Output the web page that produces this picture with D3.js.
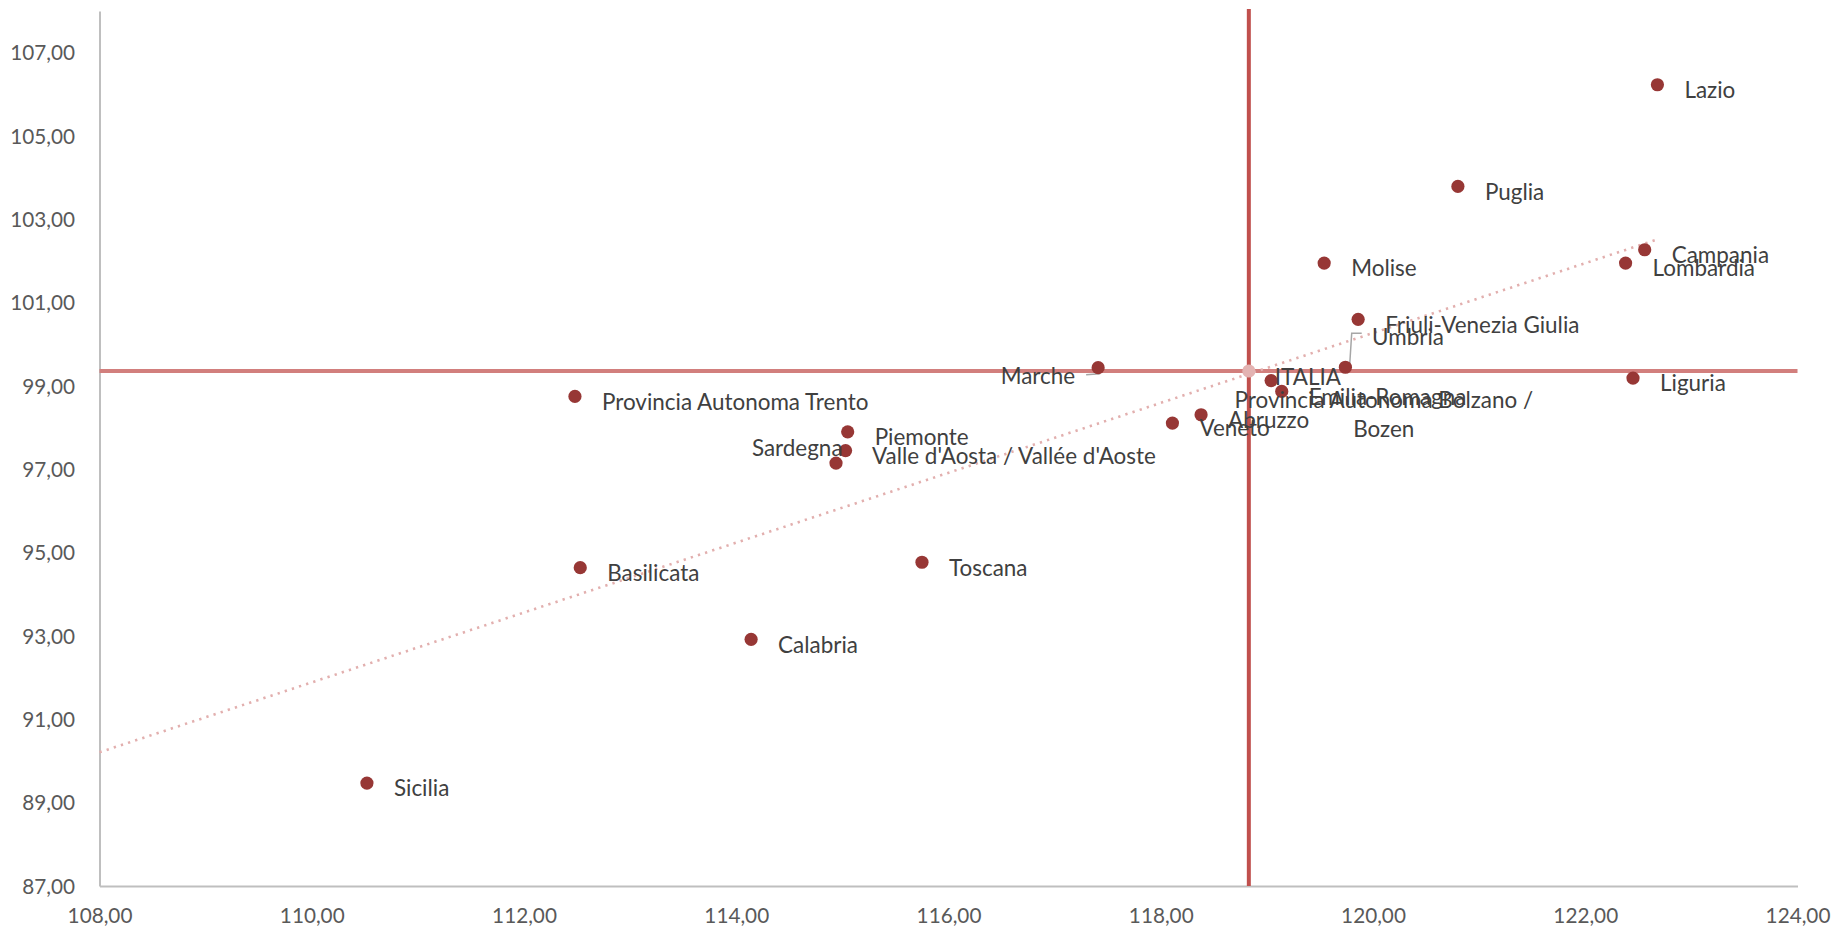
<!DOCTYPE html>
<html>
<head>
<meta charset="utf-8">
<script src="https://cdn.jsdelivr.net/npm/d3@7"></script>
<style>
  html, body { margin: 0; padding: 0; background: #ffffff; }
  svg { display: block; }
</style>
</head>
<body>
<svg id="chart" width="1835" height="931"></svg>
<script>
// ---------------- DATA ----------------
const regions = [
  "Lazio", "Puglia", "Campania", "Lombardia", "Molise",
  "Friuli-Venezia Giulia", "Umbria", "Liguria", "Marche",
  "Provincia Autonoma Bolzano / Bozen", "Emilia-Romagna",
  "Provincia Autonoma Trento", "Abruzzo", "Veneto", "Piemonte",
  "Sardegna", "Valle d'Aosta / Vallée d'Aoste", "Toscana",
  "Basilicata", "Calabria", "Sicilia"
];
const xValues = [
  122.68, 120.80, 122.56, 122.38, 119.54,
  119.86, 119.74, 122.45, 117.41,
  119.04, 119.14,
  112.48, 118.38, 118.11, 115.05,
  115.03, 114.94, 115.75,
  112.53, 114.14, 110.52
];
const yValues = [
  106.23, 103.79, 102.27, 101.95, 101.95,
  100.60, 99.45, 99.19, 99.44,
  99.13, 98.87,
  98.75, 98.31, 98.11, 97.90,
  97.45, 97.15, 94.77,
  94.64, 92.92, 89.47
];
const italiaName = "ITALIA";
const italiaX = 118.83;
const italiaY = 99.36;
// linear trendline: start / end
const trendX = [108, 122.67];
const trendY = [90.21, 102.51];
const xTicks = [108, 110, 112, 114, 116, 118, 120, 122, 124];
const yTicks = [87, 89, 91, 93, 95, 97, 99, 101, 103, 105, 107];
const xDomain = [108, 124];
const yDomain = [87, 108];

// ---------------- LAYOUT / STYLE ----------------
const W = 1835, H = 931;
const plot = { left: 99.5, right: 1797.5, top: 11, bottom: 886 };
const FONT = "Lato, 'Open Sans', sans-serif";
const colors = {
  point: "#973735",
  italia: "#E3B3B2",
  vline: "#C0504D",
  hline: "#D27F7D",
  trend: "#E2AFAE",
  axis: "#BFBFBF",
  tick: "#595959",
  label: "#404040",
  leader: "#A6A6A6"
};
// label placement (pixel offsets relative to the marker)
const labelDefault = { anchor: "start", dx: 27, dy: 5.5 };
const labelSpecial = {
  "Sardegna": { anchor: "end", dx: -3, dy: -2.4 },
  "Marche": { anchor: "end", dx: -23, dy: 8, leader: [[2, 6], [-12, 7]] },
  "Valle d'Aosta / Vallée d'Aoste": { anchor: "start", dx: 36, dy: -6.6 },
  "Provincia Autonoma Bolzano / Bozen": { anchor: "middle", dx: 112.7, dy: 19.3,
      lines: ["Provincia Autonoma Bolzano /", "Bozen"], lineGap: 29.3 },
  "Umbria": { anchor: "start", dx: 26.7, dy: -30.6, leader: [[4, 2], [6.3, -34], [16.3, -34]] },
  "ITALIA": { anchor: "start", dx: 26, dy: 5.7 }
};

const svg = d3.select("#chart");
svg.append("rect").attr("width", W).attr("height", H).attr("fill", "#fff");

// font calibration (Calibri substitute scaled to the reference widths)
function fitSize(sample, target, base) {
  const t = svg.append("text").attr("font-family", FONT).attr("font-size", base).text(sample);
  const w = t.node().getComputedTextLength();
  t.remove();
  return w > 0 ? base * target / w : base;
}
const labelSize = fitSize("Provincia Autonoma Trento", 266.7, 22);
const tickSize = fitSize("122,00", 64.8, 22);

const x = d3.scaleLinear().domain(xDomain).range([plot.left, plot.right]);
const y = d3.scaleLinear().domain(yDomain).range([plot.bottom, plot.top]);

const locale = d3.formatLocale({ decimal: ",", thousands: ".", grouping: [3], currency: ["€", ""] });
const fmt = locale.format(".2f");

// axes
const xAxis = d3.axisBottom(x).tickValues(xTicks).tickFormat(fmt).tickSize(0).tickPadding(0);
const yAxis = d3.axisLeft(y).tickValues(yTicks).tickFormat(fmt).tickSize(0).tickPadding(0);

const gx = svg.append("g").attr("transform", `translate(0,${plot.bottom})`).call(xAxis);
gx.select(".domain").attr("stroke", colors.axis).attr("stroke-width", 2);
gx.selectAll(".tick text")
  .attr("font-family", FONT).attr("font-size", tickSize).attr("fill", colors.tick)
  .attr("dy", null).attr("y", 30 + tickSize * 0.35);

const gy = svg.append("g").attr("transform", `translate(${plot.left},0)`).call(yAxis);
gy.select(".domain").attr("stroke", colors.axis).attr("stroke-width", 2);
gy.selectAll(".tick text")
  .attr("font-family", FONT).attr("font-size", tickSize).attr("fill", colors.tick)
  .attr("dy", null).attr("x", -(plot.left - 75)).attr("y", tickSize * 0.35)
  .attr("text-anchor", "end");

// cross lines through ITALIA
svg.append("line")
  .attr("x1", x(xDomain[0])).attr("x2", x(xDomain[1]))
  .attr("y1", y(italiaY)).attr("y2", y(italiaY))
  .attr("stroke", colors.hline).attr("stroke-width", 4);
svg.append("line")
  .attr("x1", x(italiaX)).attr("x2", x(italiaX))
  .attr("y1", y(yDomain[1]) - 2).attr("y2", y(yDomain[0]))
  .attr("stroke", colors.vline).attr("stroke-width", 4);

// trendline
svg.append("path")
  .datum(trendX.map((v, i) => [v, trendY[i]]))
  .attr("d", d3.line().x(d => x(d[0])).y(d => y(d[1])))
  .attr("fill", "none").attr("stroke", colors.trend)
  .attr("stroke-width", 2.6).attr("stroke-dasharray", "2.3,5.2");

// data
const data = regions.map((r, i) => ({ name: r, x: xValues[i], y: yValues[i], it: false }));
data.push({ name: italiaName, x: italiaX, y: italiaY, it: true });

// leaders
data.forEach(d => {
  const s = labelSpecial[d.name];
  if (s && s.leader) {
    const px = x(d.x), py = y(d.y);
    svg.append("path")
      .datum(s.leader.map(p => [px + p[0], py + p[1]]))
      .attr("d", d3.line())
      .attr("fill", "none").attr("stroke", colors.leader).attr("stroke-width", 1.5);
  }
});

// markers
svg.append("g").selectAll("circle").data(data).join("circle")
  .attr("cx", d => x(d.x)).attr("cy", d => y(d.y)).attr("r", 6.6)
  .attr("fill", d => d.it ? colors.italia : colors.point);

// labels
const lg = svg.append("g");
data.forEach(d => {
  const s = Object.assign({}, labelDefault, labelSpecial[d.name] || {});
  const px = x(d.x), py = y(d.y);
  const lines = s.lines || [d.name];
  lines.forEach((ln, k) => {
    lg.append("text")
      .attr("x", px + s.dx)
      .attr("y", py + s.dy + k * (s.lineGap || 0) + labelSize * 0.35)
      .attr("text-anchor", s.anchor)
      .attr("font-family", FONT).attr("font-size", labelSize)
      .attr("fill", colors.label)
      .text(ln);
  });
});
</script>
</body>
</html>
